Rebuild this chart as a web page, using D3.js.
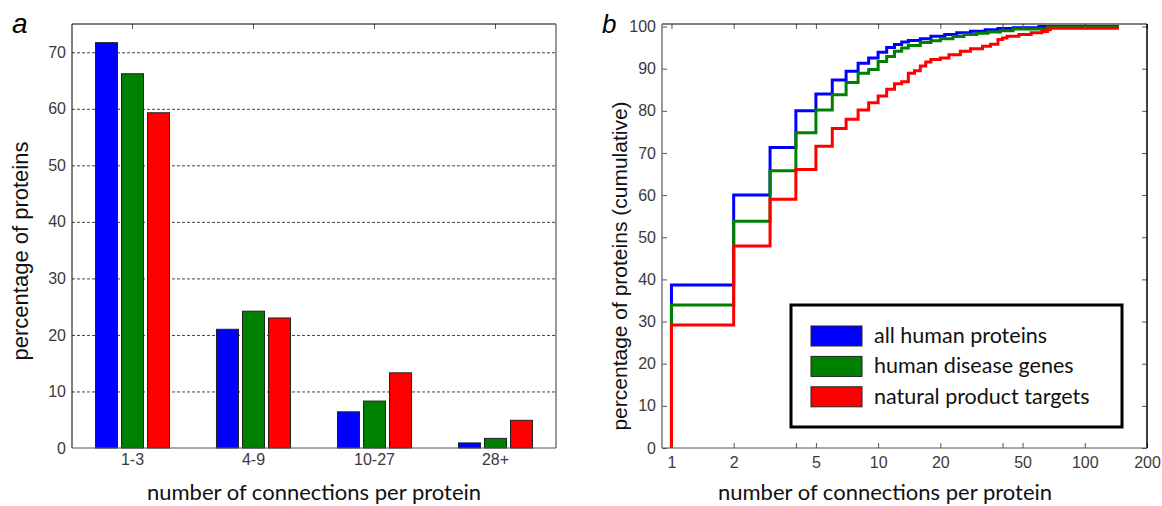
<!DOCTYPE html>
<html>
<head>
<meta charset="utf-8">
<script src="https://cdn.jsdelivr.net/npm/d3@7"></script>
<style>
body { margin: 0; background: #fff; }
svg { display: block; }
</style>
</head>
<body>
<script>
// series
const seriesNames = ["all human proteins", "human disease genes", "natural product targets"];
const seriesColors = ["#0000ff", "#008000", "#ff0000"];

// panel a: share of proteins per connection bin
const binLabels = ["1-3", "4-9", "10-27", "28+"];
const allHuman = [71.7, 21.0, 6.4, 0.9];
const diseaseGenes = [66.2, 24.2, 8.3, 1.7];
const productTargets = [59.3, 23.0, 13.3, 4.9];
const barTicks = [0, 10, 20, 30, 40, 50, 60, 70];

// panel b: cumulative share, [connections, percent]
const cumAllHuman = [[1, 0], [1, 38.7], [2, 60.0], [3, 71.3], [4, 80.0], [5, 84.0], [6, 87.3], [7, 89.4],
  [8, 91.3], [9, 92.5], [10, 93.9], [11, 95.0], [12, 95.7], [13, 96.3], [14, 96.7], [16, 97.1],
  [18, 97.7], [21, 98.1], [24, 98.5], [28, 98.9], [33, 99.2], [38, 99.5], [45, 99.7], [60, 100], [146, 100]];
const cumDisease = [[1, 0], [1, 33.9], [2, 53.8], [3, 65.8], [4, 74.8], [5, 80.2], [6, 83.8], [7, 86.7],
  [8, 88.9], [9, 89.8], [10, 91.7], [11, 92.9], [12, 94.1], [13, 94.9], [14, 95.5], [16, 96.2],
  [18, 96.6], [20, 97.1], [23, 97.6], [26, 98.1], [30, 98.4], [34, 98.7], [39, 99.0], [45, 99.4],
  [66, 99.9], [146, 99.9]];
const cumTargets = [[1, 0], [1, 29.2], [2, 47.9], [3, 59.0], [4, 66.1], [5, 71.6], [6, 75.8], [7, 78.0],
  [8, 80.2], [9, 81.9], [10, 83.5], [11, 85.1], [12, 86.4], [13, 86.9], [14, 88.9], [15, 89.5],
  [16, 90.6], [17, 91.6], [18, 92.2], [20, 92.5], [22, 93.3], [25, 94.1], [28, 94.7], [32, 95.3],
  [35, 95.8], [38, 96.9], [40, 97.3], [42, 97.7], [48, 98.1], [55, 98.5], [62, 98.8], [66, 99.2],
  [68, 99.6], [146, 99.6]];
const logTicks = [1, 2, 4, 5, 10, 20, 40, 50, 100, 200];
const logLabels = [1, 2, 5, 10, 20, 50, 100, 200];
const cumTicks = [0, 10, 20, 30, 40, 50, 60, 70, 80, 90, 100];

const W = 1162, H = 506;
const tickFont = "'Liberation Sans', Arial, sans-serif";
const titleFont = "Lato, 'Open Sans', sans-serif";

const svg = d3.select("body").append("svg").attr("width", W).attr("height", H);
svg.append("rect").attr("width", W).attr("height", H).attr("fill", "#fff");

function styleTicks(g) {
  g.selectAll("text").attr("font-family", tickFont).attr("font-size", 16).attr("fill", "#3a3a3a");
  g.selectAll("line").attr("stroke", "#555");
}

// ---------- panel a ----------
const a = { left: 72, right: 556, top: 24, bottom: 448 };
const xa = d3.scaleBand().domain(binLabels).range([a.left, a.right]).paddingInner(0.388).paddingOuter(0.194);
const xs = d3.scaleBand().domain(d3.range(3)).range([0, xa.bandwidth()]).paddingInner(0.154);
const ya = d3.scaleLinear().domain([0, 75]).range([a.bottom, a.top]);

const ga = svg.append("g");

ga.append("g")
  .attr("transform", `translate(${a.left},0)`)
  .call(d3.axisLeft(ya).tickValues(barTicks.slice(1)).tickSize(-(a.right - a.left)).tickFormat(""))
  .call(g => g.select(".domain").remove())
  .selectAll("line").attr("stroke", "#444").attr("stroke-dasharray", "3,2");

const barRows = binLabels.map((b, i) => ({ bin: b, vals: [allHuman[i], diseaseGenes[i], productTargets[i]] }));

ga.selectAll("g.bin").data(barRows).enter()
  .append("g").attr("class", "bin")
  .attr("transform", d => `translate(${xa(d.bin)},0)`)
  .selectAll("rect").data(d => d.vals).enter()
  .append("rect")
  .attr("x", (d, i) => xs(i))
  .attr("y", d => ya(d))
  .attr("width", xs.bandwidth())
  .attr("height", d => a.bottom - ya(d))
  .attr("fill", (d, i) => seriesColors[i])
  .attr("stroke", "#222")
  .attr("stroke-width", 1);

ga.append("g")
  .attr("transform", `translate(${a.left},0)`)
  .call(d3.axisLeft(ya).tickValues(barTicks).tickSize(0).tickPadding(6))
  .call(g => g.select(".domain").remove())
  .call(styleTicks);

ga.append("g")
  .attr("transform", `translate(0,${a.bottom})`)
  .call(d3.axisBottom(xa).tickSize(0).tickPadding(6))
  .call(g => g.select(".domain").remove())
  .call(styleTicks);

ga.append("g")
  .attr("transform", `translate(0,${a.top})`)
  .call(d3.axisTop(xa).tickSize(-5).tickFormat(""))
  .call(g => g.select(".domain").remove())
  .call(styleTicks);

ga.append("line").attr("x1", a.left).attr("x2", a.right).attr("y1", a.top).attr("y2", a.top).attr("stroke", "#000");
ga.append("line").attr("x1", a.left).attr("x2", a.left).attr("y1", a.top).attr("y2", a.bottom).attr("stroke", "#000");
ga.append("line").attr("x1", a.right).attr("x2", a.right).attr("y1", a.top).attr("y2", a.bottom).attr("stroke", "#777").attr("stroke-width", 1.5);
ga.append("line").attr("x1", a.left).attr("x2", a.right).attr("y1", a.bottom).attr("y2", a.bottom).attr("stroke", "#555");

ga.append("text").text("a")
  .attr("x", 12).attr("y", 33)
  .attr("font-family", tickFont).attr("font-style", "italic").attr("font-size", 28);

ga.append("text").text("number of connections per protein")
  .attr("x", (a.left + a.right) / 2).attr("y", 500)
  .attr("text-anchor", "middle")
  .attr("font-family", titleFont).attr("font-size", 22).attr("fill", "#111");

ga.append("text").text("percentage of proteins")
  .attr("transform", `translate(28,251) rotate(-90)`)
  .attr("text-anchor", "middle")
  .attr("font-family", tickFont).attr("font-size", 22).attr("fill", "#111");

// ---------- panel b ----------
const b = { left: 662, right: 1147, top: 24, bottom: 448 };
const xb = d3.scaleLog().domain([0.9, 200]).range([b.left, b.right]);
const yb = d3.scaleLinear().domain([0, 100]).range([b.bottom, 26.5]);

const gb = svg.append("g");

const stepLine = d3.line()
  .x(d => xb(d[0]))
  .y(d => yb(d[1]))
  .curve(d3.curveStepAfter);

[cumAllHuman, cumDisease, cumTargets].forEach((s, i) => {
  gb.append("path").datum(s)
    .attr("d", stepLine)
    .attr("fill", "none")
    .attr("stroke", seriesColors[i])
    .attr("stroke-width", 3);
});

gb.append("g")
  .attr("transform", `translate(0,${b.bottom})`)
  .call(d3.axisBottom(xb).tickValues(logTicks).tickSize(-5).tickPadding(9)
    .tickFormat(d => logLabels.includes(d) ? d : ""))
  .call(g => g.select(".domain").remove())
  .call(styleTicks);

gb.append("g")
  .attr("transform", `translate(0,${b.top})`)
  .call(d3.axisTop(xb).tickValues(logTicks).tickSize(-5).tickFormat(""))
  .call(g => g.select(".domain").remove())
  .call(styleTicks);

gb.append("g")
  .attr("transform", `translate(${b.left},0)`)
  .call(d3.axisLeft(yb).tickValues(cumTicks).tickSize(-5).tickPadding(6))
  .call(g => g.select(".domain").remove())
  .call(styleTicks);

gb.append("g")
  .attr("transform", `translate(${b.right},0)`)
  .call(d3.axisRight(yb).tickValues(cumTicks).tickSize(-5).tickFormat(""))
  .call(g => g.select(".domain").remove())
  .call(styleTicks);

gb.append("line").attr("x1", b.left).attr("x2", b.right).attr("y1", b.top).attr("y2", b.top).attr("stroke", "#000");
gb.append("line").attr("x1", b.right).attr("x2", b.right).attr("y1", b.top).attr("y2", b.bottom).attr("stroke", "#000").attr("stroke-width", 1.5);
gb.append("line").attr("x1", b.left).attr("x2", b.left).attr("y1", b.top).attr("y2", b.bottom).attr("stroke", "#777").attr("stroke-width", 1.5);
gb.append("line").attr("x1", b.left).attr("x2", b.right).attr("y1", b.bottom).attr("y2", b.bottom).attr("stroke", "#555");

gb.append("text").text("b")
  .attr("x", 602).attr("y", 33)
  .attr("font-family", tickFont).attr("font-style", "italic").attr("font-size", 26);

gb.append("text").text("number of connections per protein")
  .attr("x", 885).attr("y", 500)
  .attr("text-anchor", "middle")
  .attr("font-family", titleFont).attr("font-size", 22).attr("fill", "#111");

gb.append("text").text("percentage of proteins (cumulative)")
  .attr("transform", `translate(627,266) rotate(-90)`)
  .attr("text-anchor", "middle")
  .attr("font-family", tickFont).attr("font-size", 21).attr("fill", "#111");

// legend
const lg = gb.append("g").attr("transform", "translate(791,305)");
lg.append("rect").attr("width", 331).attr("height", 122)
  .attr("fill", "#fff").attr("stroke", "#000").attr("stroke-width", 3);
seriesNames.forEach((name, i) => {
  const row = lg.append("g").attr("transform", `translate(0,${31 + i * 30.4})`);
  row.append("rect").attr("x", 20).attr("y", -10).attr("width", 51).attr("height", 20)
    .attr("fill", seriesColors[i]).attr("stroke", "#222").attr("stroke-width", 1);
  row.append("text").text(name)
    .attr("x", 83).attr("y", 7)
    .attr("font-family", titleFont).attr("font-size", 21.5).attr("fill", "#111");
});
</script>
</body>
</html>
